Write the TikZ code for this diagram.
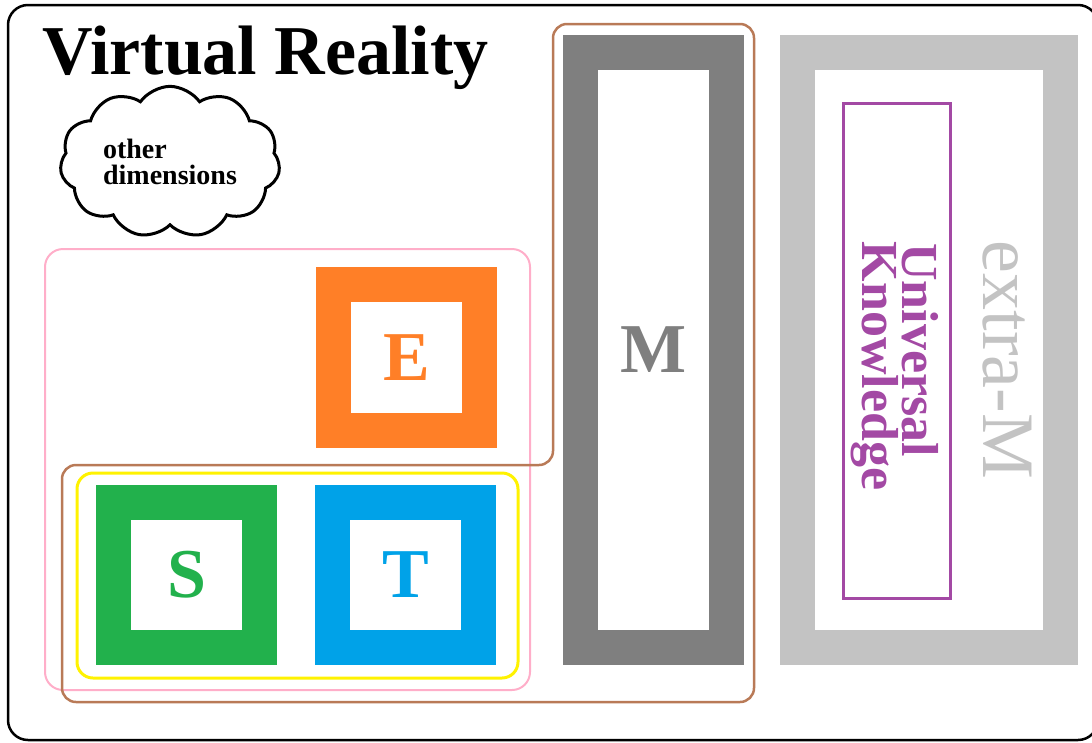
\documentclass[tikz,border=0pt]{standalone}
\usepackage{fontspec}
\setmainfont{Liberation Serif}
\usetikzlibrary{shapes.symbols}
\definecolor{cOrange}{RGB}{255,127,39}
\definecolor{cGreen}{RGB}{34,177,76}
\definecolor{cBlue}{RGB}{0,162,232}
\definecolor{cGray}{RGB}{127,127,127}
\definecolor{cLGray}{RGB}{195,195,195}
\definecolor{cPurple}{RGB}{163,73,164}
\definecolor{cBrown}{RGB}{185,122,87}
\definecolor{cPink}{RGB}{255,174,201}
\definecolor{cYellow}{RGB}{255,242,0}
\begin{document}
\begin{tikzpicture}[x=1pt,y=-1pt,
  framebox/.style={line width=35pt, inner sep=0pt, outer sep=0pt,
    font=\fontsize{70}{70}\selectfont\bfseries},
  groupbox/.style={inner sep=0pt, outer sep=0pt}]
\useasboundingbox (0,0) rectangle (1092,742);
% outer border
\draw[line width=2.5pt, rounded corners=20pt] (8,5) rectangle (1098,740);
% title
\node[anchor=base west, inner sep=0pt, font=\fontsize{70}{70}\selectfont\bfseries] (title) at (42,74) {Virtual Reality};
% cloud
\node[cloud, draw, line width=3pt, cloud puffs=11, cloud puff arc=110, aspect=1.47,
  minimum width=220pt, minimum height=148pt, inner sep=0pt, align=left,
  font=\fontsize{28}{26}\selectfont\bfseries] (cloud) at (170,162) {other\\dimensions};
% group outlines
\node[groupbox, draw=cPink, line width=2pt, rounded corners=18pt,
  minimum width=485pt, minimum height=441pt] (pinkbox) at (287.5,469.5) {};
\node[groupbox, draw=cYellow, line width=3pt, rounded corners=16pt,
  minimum width=441pt, minimum height=205pt] (yellowbox) at (297.5,575.5) {};
\draw[cBrown, line width=2.5pt, rounded corners=14pt]
  (300,702) -- (62,702) -- (62,465) -- (553,465) -- (553,24) -- (754,24) -- (754,702) -- cycle;
% frames
\node[framebox, draw=cOrange, text=cOrange, minimum width=146pt, minimum height=146pt] (E) at (406.5,357.5) {E};
\node[framebox, draw=cGreen, text=cGreen, minimum width=146pt, minimum height=145pt] (S) at (186.5,575) {S};
\node[framebox, draw=cBlue, text=cBlue, minimum width=146pt, minimum height=145pt] (T) at (405.5,575) {T};
\node[framebox, draw=cGray, text=cGray, minimum width=146pt, minimum height=595pt] (M) at (653.5,350) {M};
\node[framebox, draw=cLGray, minimum width=263pt, minimum height=595pt] (XM) at (929,350) {};
\node[groupbox, draw=cPurple, line width=3pt, minimum width=107pt, minimum height=495pt] (UK) at (896.5,350.5) {};
% rotated texts
\node[rotate=-90, anchor=base, inner sep=0pt, text=cPurple, font=\fontsize{52}{52}\selectfont\bfseries] (univ) at (902,350) {Universal};
\node[rotate=-90, anchor=base, inner sep=0pt, text=cPurple, font=\fontsize{52}{52}\selectfont\bfseries] (know) at (862,366) {Knowledge};
\node[rotate=-90, anchor=base, inner sep=0pt, text=cLGray, font=\fontsize{74}{74}\selectfont] (xmtext) at (983,360) {extra-M};
\end{tikzpicture}
\end{document}
